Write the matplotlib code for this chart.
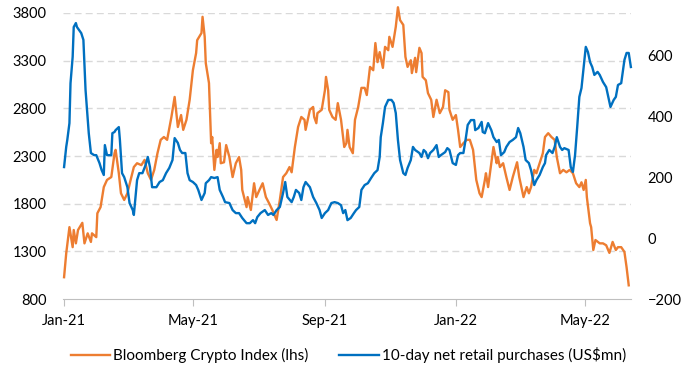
import pandas as pd
import matplotlib
matplotlib.use("Agg")
import matplotlib.pyplot as plt
import matplotlib.dates as mdates

# days counted from 1 Jan 2021
crypto_days = [0, 2, 5, 8, 9, 11, 13, 17, 19, 22, 25, 26, 30, 31, 34, 37, 40, 44, 47, 48,
               51, 53, 56, 59, 62, 65, 68, 72, 75, 78, 81, 84, 87, 90, 93, 96, 100, 103, 106, 109,
               111, 114, 117, 120, 123, 124, 128, 129, 131, 132, 135, 137, 138, 140, 142, 143, 145, 146, 149, 151,
               154, 157, 160, 163, 165, 166, 170, 171, 174, 177, 179, 182, 185, 188, 191, 194, 198, 201, 204, 207,
               210, 212, 215, 218, 221, 224, 225, 229, 232, 233, 235, 236, 240, 243, 244, 246, 247, 250, 253, 255,
               258, 261, 263, 264, 266, 269, 271, 274, 277, 280, 282, 285, 288, 290, 292, 294, 297, 299, 302, 303,
               306, 309, 311, 313, 316, 318, 320, 323, 324, 327, 328, 331, 333, 334, 337, 339, 342, 344, 347, 350,
               353, 355, 358, 359, 362, 365, 367, 369, 372, 375, 378, 381, 384, 387, 389, 392, 393, 395, 398, 400,
               403, 404, 406, 409, 412, 415, 418, 422, 424, 428, 431, 433, 435, 438, 440, 443, 446, 448, 451, 454,
               457, 459, 462, 465, 468, 471, 474, 477, 480, 482, 484, 486, 487, 490, 491, 493, 495, 499, 502, 505,
               508, 511, 514, 516, 519, 522, 524, 526]
crypto_index = [1030, 1280, 1555, 1345, 1525, 1385, 1525, 1600, 1385, 1490, 1400, 1490, 1450, 1700, 1765, 1975, 2050, 2080, 2330, 2365,
                2120, 1910, 1840, 1910, 2050, 2185, 2225, 2205, 2260, 2120, 2050, 2155, 2330, 2470, 2500, 2470, 2710, 2920, 2605, 2730,
                2575, 2680, 2890, 3200, 3380, 3515, 3590, 3760, 3550, 3275, 3065, 2435, 2500, 2155, 2365, 2290, 2435, 2225, 2235, 2415,
                2290, 2080, 2225, 2290, 2155, 1945, 1765, 1870, 1735, 2015, 1870, 1945, 2015, 1870, 1805, 1735, 1630, 1840, 2080, 2120,
                2185, 2130, 2395, 2605, 2710, 2680, 2575, 2785, 2815, 2710, 2645, 2750, 2785, 2990, 3130, 2990, 2785, 2710, 2680, 2855,
                2680, 2395, 2435, 2575, 2395, 2330, 2680, 2815, 3015, 3015, 2940, 3235, 3200, 3485, 3285, 3390, 3225, 3445, 3410, 3550,
                3445, 3655, 3860, 3725, 3675, 3340, 3235, 3305, 3170, 3330, 3180, 3435, 3380, 3130, 3095, 2960, 2890, 2710, 2890, 2750,
                2815, 2990, 2970, 2785, 2680, 2730, 2575, 2395, 2435, 2470, 2470, 2365, 2050, 1910, 1870, 2050, 2120, 1975, 2225, 2395,
                2225, 2290, 2185, 2225, 2080, 1945, 2080, 2235, 2080, 1870, 1975, 1910, 1975, 2155, 2120, 2225, 2330, 2500, 2540, 2500,
                2470, 2290, 2120, 2155, 2130, 2155, 2120, 2015, 1975, 2025, 1945, 2050, 1870, 1595, 1555, 1315, 1420, 1385, 1385, 1365,
                1285, 1400, 1315, 1345, 1345, 1295, 1135, 945]

retail_days = [0, 2, 3, 5, 6, 8, 9, 11, 12, 16, 18, 20, 23, 25, 28, 30, 33, 35, 37, 38,
               40, 44, 45, 47, 48, 51, 52, 54, 56, 59, 61, 64, 65, 68, 70, 73, 76, 78, 80, 82,
               86, 89, 92, 95, 98, 101, 103, 106, 108, 110, 113, 115, 117, 120, 123, 125, 128, 131, 132, 135,
               137, 140, 143, 145, 148, 150, 154, 157, 160, 163, 166, 170, 173, 176, 178, 180, 183, 187, 190, 193,
               195, 198, 201, 204, 206, 208, 212, 214, 216, 219, 221, 223, 225, 229, 232, 235, 238, 240, 243, 246,
               249, 252, 255, 258, 260, 262, 264, 267, 270, 272, 275, 277, 280, 283, 286, 289, 292, 294, 295, 297,
               299, 302, 305, 307, 309, 311, 313, 316, 318, 320, 323, 325, 327, 331, 333, 335, 337, 339, 341, 344,
               347, 349, 351, 355, 357, 359, 362, 365, 367, 369, 372, 374, 376, 379, 382, 383, 386, 389, 390, 392,
               395, 398, 400, 403, 405, 407, 410, 412, 415, 418, 421, 423, 425, 428, 430, 433, 435, 438, 440, 443,
               446, 448, 449, 452, 455, 457, 459, 462, 464, 466, 470, 472, 474, 476, 478, 480, 482, 484, 486, 488,
               490, 492, 494, 497, 499, 502, 505, 507, 509, 512, 514, 516, 519, 522, 524, 526, 528]
retail_purchases = [233, 299, 322, 377, 508, 594, 692, 705, 692, 672, 650, 486, 344, 279, 272, 272, 246, 223, 207, 305,
                    272, 272, 344, 348, 354, 364, 322, 213, 200, 167, 115, 92, 76, 190, 213, 213, 240, 266, 233, 167,
                    167, 184, 190, 213, 230, 256, 328, 312, 289, 279, 279, 213, 190, 184, 174, 158, 125, 148, 180, 190,
                    200, 197, 200, 158, 135, 118, 115, 92, 82, 82, 66, 49, 49, 59, 49, 69, 82, 92, 76, 82,
                    76, 92, 102, 148, 184, 135, 118, 135, 158, 148, 125, 167, 184, 167, 135, 115, 92, 66, 82, 92,
                    115, 118, 115, 108, 82, 92, 59, 66, 82, 92, 102, 158, 174, 180, 197, 213, 223, 266, 331, 377,
                    430, 453, 453, 443, 410, 322, 256, 213, 207, 230, 256, 299, 289, 279, 266, 289, 282, 262, 279, 289,
                    305, 266, 272, 282, 295, 289, 246, 240, 272, 279, 279, 322, 371, 387, 387, 354, 361, 381, 348, 344,
                    377, 354, 331, 315, 322, 272, 282, 299, 315, 322, 331, 361, 344, 299, 256, 246, 223, 174, 190, 207,
                    233, 246, 272, 289, 279, 299, 331, 299, 289, 295, 289, 233, 217, 272, 364, 463, 492, 561, 627, 610,
                    577, 561, 535, 545, 535, 512, 495, 463, 430, 453, 463, 502, 508, 584, 607, 607, 561]

start = pd.Timestamp("2021-01-01")
crypto_dates = start + pd.to_timedelta(crypto_days, unit="D")
retail_dates = start + pd.to_timedelta(retail_days, unit="D")

plt.rcParams['font.family'] = ['Lato', 'DejaVu Sans']
orange = '#ED7D31'
blue = '#0070C0'

fig = plt.figure(figsize=(6.9, 3.88), dpi=100)
ax = fig.add_axes([0.0913, 0.229, 0.823, 0.7375])
ax2 = ax.twinx()

l1, = ax.plot(crypto_dates, crypto_index, color=orange, lw=1.7, clip_on=False,
              label='Bloomberg Crypto Index (lhs)', zorder=3)
l2, = ax2.plot(retail_dates, retail_purchases, color=blue, lw=1.7, clip_on=False,
               label='10-day net retail purchases (US$mn)', zorder=3)

ax.set_ylim(800, 3800)
ax.set_yticks(range(800, 3801, 500))
ax2.set_ylim(-200, 738)
ax2.set_yticks(range(-200, 601, 200))
ax.set_xlim(start - pd.Timedelta(days=1), start + pd.Timedelta(days=528))

ax.xaxis.set_major_locator(mdates.MonthLocator(bymonth=[1, 5, 9]))
ax.xaxis.set_major_formatter(mdates.DateFormatter('%b-%y'))

for y in range(1300, 3801, 500):
    ax.axhline(y, color='#D9D9D9', lw=1.0, ls=(0, (5, 3)), zorder=1)

for a in (ax, ax2):
    for s in ('top', 'left', 'right', 'bottom'):
        a.spines[s].set_visible(False)
ax.spines['bottom'].set_visible(True)
ax.spines['bottom'].set_color('#BFBFBF')
ax.tick_params(axis='x', length=5, color='#BFBFBF', pad=6, labelsize=10.5)
ax.tick_params(axis='y', length=0, pad=12, labelsize=10.5)
ax2.tick_params(axis='y', length=0, pad=12, labelsize=10.5)

fig.legend(handles=[l1, l2], loc='center', bbox_to_anchor=(0.505, 0.085), ncol=2,
           frameon=False, fontsize=11, handlelength=2.6, handletextpad=0.2, columnspacing=2.0)

fig.savefig('out.png', dpi=100)
